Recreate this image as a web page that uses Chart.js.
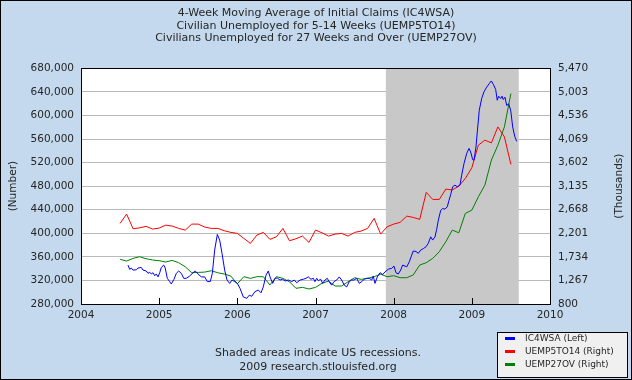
<!DOCTYPE html>
<html>
<head>
<meta charset="utf-8">
<title>Initial Claims and Unemployment Duration</title>
<script src="https://cdn.jsdelivr.net/npm/chart.js@4/dist/chart.umd.min.js"></script>
<style>
  body { margin: 0; background: #ffffff; }
  canvas { display: block; }
</style>
</head>
<body>
<canvas id="claims-chart" width="632" height="380"></canvas>
<script>
// tick labels / axis ranges
const xTicks = [2004, 2005, 2006, 2007, 2008, 2009, 2010];
const leftTicks = [280000, 320000, 360000, 400000, 440000, 480000, 520000, 560000, 600000, 640000, 680000];
const rightTicks = [800, 1267, 1734, 2201, 2668, 3135, 3602, 4069, 4536, 5003, 5470];

// recession: Dec 2007 -> end of data
const recessions = [[2007.9, 2009.6]];

// IC4WSA, weekly (decimal year, number)
const claimDates = [
  2004.601, 2004.623, 2004.643, 2004.665, 2004.707, 2004.729, 2004.771, 2004.793, 2004.835, 2004.857,
  2004.879, 2004.899, 2004.921, 2004.943, 2004.963, 2004.985, 2005.007, 2005.027, 2005.058, 2005.078,
  2005.104, 2005.135, 2005.155, 2005.190, 2005.219, 2005.250, 2005.283, 2005.314, 2005.347, 2005.391,
  2005.433, 2005.462, 2005.497, 2005.539, 2005.582, 2005.616, 2005.654, 2005.680, 2005.710, 2005.744,
  2005.774, 2005.804, 2005.838, 2005.868, 2005.902, 2005.932, 2005.966, 2006.000, 2006.034, 2006.076,
  2006.120, 2006.153, 2006.184, 2006.226, 2006.268, 2006.303, 2006.332, 2006.367, 2006.396, 2006.418,
  2006.452, 2006.482, 2006.511, 2006.546, 2006.580, 2006.610, 2006.652, 2006.695, 2006.729, 2006.759,
  2006.802, 2006.844, 2006.878, 2006.908, 2006.942, 2006.972, 2006.993, 2007.015, 2007.036, 2007.066,
  2007.092, 2007.121, 2007.151, 2007.173, 2007.207, 2007.237, 2007.271, 2007.304, 2007.335, 2007.368,
  2007.399, 2007.432, 2007.463, 2007.492, 2007.527, 2007.560, 2007.591, 2007.624, 2007.655, 2007.688,
  2007.719, 2007.739, 2007.761, 2007.790, 2007.825, 2007.860, 2007.889, 2007.931, 2007.975, 2008.004,
  2008.030, 2008.059, 2008.090, 2008.115, 2008.145, 2008.167, 2008.200, 2008.231, 2008.251, 2008.286,
  2008.315, 2008.346, 2008.379, 2008.413, 2008.443, 2008.474, 2008.499, 2008.529, 2008.550, 2008.571,
  2008.602, 2008.627, 2008.657, 2008.686, 2008.708, 2008.730, 2008.755, 2008.784, 2008.814, 2008.848,
  2008.870, 2008.900, 2008.934, 2008.964, 2008.985, 2009.011, 2009.028, 2009.053, 2009.070, 2009.095,
  2009.126, 2009.155, 2009.190, 2009.223, 2009.249, 2009.274, 2009.305, 2009.325, 2009.343, 2009.369,
  2009.386, 2009.402, 2009.424, 2009.446, 2009.471, 2009.497, 2009.523, 2009.548, 2009.574
];
const claimValues = [
  346100, 338800, 341000, 337600, 338000, 341000, 342000, 337600, 336000, 332000,
  334000, 331000, 333000, 328000, 331000, 326000, 333000, 342000, 346000, 341000,
  323600, 317800, 314000, 322000, 332000, 336000, 332000, 323600, 323600, 327500,
  333000, 336000, 331000, 326000, 326000, 318000, 318000, 332000, 371500, 398000,
  388500, 366000, 337600, 320700, 315000, 320700, 318000, 315000, 306600, 292000,
  289600, 295000, 293000, 301000, 303700, 299000, 309000, 329000, 336000, 326000,
  315000, 323600, 324000, 320700, 322000, 319000, 320700, 318000, 320700, 316000,
  320700, 322000, 323600, 326000, 322000, 323600, 318000, 323600, 319600, 322000,
  315000, 320700, 323600, 318000, 312000, 318000, 320700, 326000, 320700, 312000,
  309000, 318000, 320700, 320700, 323600, 315000, 318000, 322000, 323600, 323600,
  320700, 327500, 315000, 326000, 333000, 330000, 334500, 339000, 340500, 344400,
  333000, 331000, 337600, 346000, 344400, 343000, 351700, 363000, 370000, 369000,
  366000, 371500, 374000, 377000, 383000, 394000, 388500, 394000, 406600, 422000,
  439000, 442000, 441000, 445000, 456000, 466000, 479000, 481700, 479000, 481700,
  498600, 518500, 535400, 544000, 538000, 525000, 524000, 546600, 572000, 608800,
  628700, 640000, 648000, 654000, 658500, 653000, 644000, 625800, 632600, 628700,
  632600, 627000, 631000, 617000, 619600, 608800, 580500, 564800, 556000
];

// monthly series start July 2004 (thousands)
const monthlyStart = 2004.5;
const shortTermUnemployed = [
  2397, 2581, 2290, 2310, 2338, 2284,
  2304, 2363, 2343, 2298, 2264, 2383, 2383, 2324, 2298, 2298, 2251, 2219,
  2199, 2100, 2001, 2165, 2219, 2080, 2132, 2298, 2053, 2093, 2146, 2021,
  2264, 2211, 2146, 2185, 2199, 2146, 2219, 2245, 2298, 2496, 2185, 2330,
  2383, 2417, 2541, 2516, 2476, 3011, 2872, 2872, 3076, 3060, 3135, 3288,
  3500, 3947, 4046, 3992, 4309, 4111, 3565
];
const longTermUnemployed = [
  1685, 1651, 1704, 1737, 1697, 1671,
  1658, 1631, 1664, 1618, 1538, 1419, 1426, 1432, 1459, 1419, 1394, 1354,
  1200, 1341, 1308, 1341, 1341, 1176, 1341, 1308, 1241, 1111, 1130, 1097,
  1130, 1210, 1255, 1156, 1156, 1241, 1321, 1288, 1308, 1341, 1390, 1341,
  1361, 1321, 1321, 1374, 1572, 1618, 1704, 1835, 2033, 2264, 2211, 2595,
  2660, 2923, 3155, 3650, 3947, 4309, 4970
];

const titleLines = [
  '4-Week Moving Average of Initial Claims (IC4WSA)',
  'Civilian Unemployed for 5-14 Weeks (UEMP5TO14)',
  'Civilians Unemployed for 27 Weeks and Over (UEMP27OV)'
];
const footerLines = ['Shaded areas indicate US recessions.', '2009 research.stlouisfed.org'];

const FONT = 'DejaVu Sans, Verdana, sans-serif';
const TEXT = '#262626';

const monthly = vals => vals.map((v, i) => ({ x: monthlyStart + i / 12, y: v }));

// page background + white plot area
const chartBackground = {
  id: 'chartBackground',
  beforeDraw(chart) {
    const ctx = chart.ctx, a = chart.chartArea;
    ctx.save();
    ctx.fillStyle = '#c4d9ed';
    ctx.fillRect(0, 0, chart.width, chart.height);
    ctx.fillStyle = '#ffffff';
    ctx.fillRect(a.left, a.top, a.right - a.left, a.bottom - a.top);
    ctx.restore();
  }
};

const recessionShade = {
  id: 'recessionShade',
  beforeDatasetsDraw(chart) {
    const ctx = chart.ctx, a = chart.chartArea, xs = chart.scales.x;
    ctx.save();
    ctx.fillStyle = '#c8c8c8';
    recessions.forEach(r => {
      const x0 = xs.getPixelForValue(r[0]);
      const x1 = xs.getPixelForValue(r[1]);
      ctx.fillRect(x0, a.top, x1 - x0, a.bottom - a.top);
    });
    ctx.restore();
  }
};

// frame, inner year ticks, right axis title, footer and legend box
const decorations = {
  id: 'decorations',
  afterDraw(chart) {
    const ctx = chart.ctx, a = chart.chartArea, xs = chart.scales.x;
    ctx.save();
    ctx.strokeStyle = '#000000';
    ctx.lineWidth = 1;
    ctx.beginPath();
    xTicks.forEach(t => {
      const px = Math.round(xs.getPixelForValue(t)) + 0.5;
      ctx.moveTo(px, a.bottom);
      ctx.lineTo(px, a.bottom - 6);
    });
    ctx.stroke();
    ctx.strokeRect(Math.round(a.left) + 0.5, Math.round(a.top) + 0.5,
      Math.round(a.right - a.left), Math.round(a.bottom - a.top));

    // right axis title, reads bottom to top
    ctx.fillStyle = TEXT;
    ctx.font = '10.5px ' + FONT;
    ctx.textAlign = 'center';
    ctx.textBaseline = 'middle';
    ctx.translate(619, (a.top + a.bottom) / 2);
    ctx.rotate(-Math.PI / 2);
    ctx.fillText('(Thousands)', 0, 0);
    ctx.setTransform(1, 0, 0, 1, 0, 0);

    // footer
    ctx.font = '11px ' + FONT;
    ctx.fillText(footerLines[0], 318, 353);
    ctx.fillText(footerLines[1], 318, 367);

    // legend
    ctx.fillStyle = '#f0f0f0';
    ctx.fillRect(497, 332, 130, 45);
    ctx.strokeStyle = '#000000';
    ctx.strokeRect(497.5, 332.5, 130, 45);
    ctx.font = '9px ' + FONT;
    ctx.textAlign = 'left';
    chart.data.datasets.forEach((ds, i) => {
      const y = 338.5 + i * 13;
      ctx.strokeStyle = ds.borderColor;
      ctx.lineWidth = 3;
      ctx.beginPath();
      ctx.moveTo(505, y);
      ctx.lineTo(515, y);
      ctx.stroke();
      ctx.fillStyle = TEXT;
      ctx.fillText(ds.label, 525, y);
    });

    // outer border
    ctx.strokeStyle = '#000000';
    ctx.lineWidth = 1;
    ctx.strokeRect(0.5, 0.5, chart.width - 1, chart.height - 1);
    ctx.restore();
  }
};

const ctx = document.getElementById('claims-chart').getContext('2d');
new Chart(ctx, {
  type: 'line',
  data: {
    datasets: [
      {
        label: 'IC4WSA (Left)',
        data: claimDates.map((d, i) => ({ x: d, y: claimValues[i] })),
        borderColor: '#0000ff',
        borderWidth: 1,
        pointRadius: 0,
        yAxisID: 'y'
      },
      {
        label: 'UEMP5TO14 (Right)',
        data: monthly(shortTermUnemployed),
        borderColor: '#ff0000',
        borderWidth: 1,
        pointRadius: 0,
        yAxisID: 'y2'
      },
      {
        label: 'UEMP27OV (Right)',
        data: monthly(longTermUnemployed),
        borderColor: '#008000',
        borderWidth: 1,
        pointRadius: 0,
        yAxisID: 'y2'
      }
    ]
  },
  options: {
    responsive: false,
    animation: false,
    events: [],
    layout: { padding: 0 },
    elements: { line: { tension: 0 } },
    plugins: {
      legend: { display: false },
      tooltip: { enabled: false },
      title: {
        display: true,
        text: titleLines,
        color: TEXT,
        font: { family: FONT, size: 11, weight: 'normal', lineHeight: 1.13 },
        padding: { top: 7, bottom: 24 }
      }
    },
    scales: {
      x: {
        type: 'linear',
        min: xTicks[0],
        max: xTicks[xTicks.length - 1],
        afterBuildTicks: s => { s.ticks = xTicks.map(v => ({ value: v })); },
        afterFit: s => { s.height = 76; },
        grid: { display: false, drawTicks: false },
        border: { display: true, color: '#000000' },
        ticks: {
          color: TEXT,
          padding: 5,
          maxRotation: 0,
          font: { family: FONT, size: 10.5 },
          callback: v => String(v)
        }
      },
      y: {
        position: 'left',
        min: leftTicks[0],
        max: leftTicks[leftTicks.length - 1],
        afterBuildTicks: s => { s.ticks = leftTicks.map(v => ({ value: v })); },
        afterFit: s => { s.width = 81; },
        grid: { color: '#b9b9b9', drawTicks: false },
        border: { display: true, color: '#000000' },
        ticks: {
          color: TEXT,
          padding: 7,
          font: { family: FONT, size: 10.5 },
          callback: v => v.toLocaleString('en-US')
        },
        title: {
          display: true,
          text: '(Number)',
          color: TEXT,
          font: { family: FONT, size: 10.5 },
          padding: { top: 7, bottom: 0 }
        }
      },
      y2: {
        position: 'right',
        min: rightTicks[0],
        max: rightTicks[rightTicks.length - 1],
        afterBuildTicks: s => { s.ticks = rightTicks.map(v => ({ value: v })); },
        afterFit: s => { s.width = 82; },
        grid: { drawOnChartArea: false, drawTicks: false },
        border: { display: true, color: '#000000' },
        ticks: {
          color: TEXT,
          padding: 8,
          font: { family: FONT, size: 10.5 },
          callback: v => v.toLocaleString('en-US')
        }
      }
    }
  },
  plugins: [chartBackground, recessionShade, decorations]
});
</script>
</body>
</html>
